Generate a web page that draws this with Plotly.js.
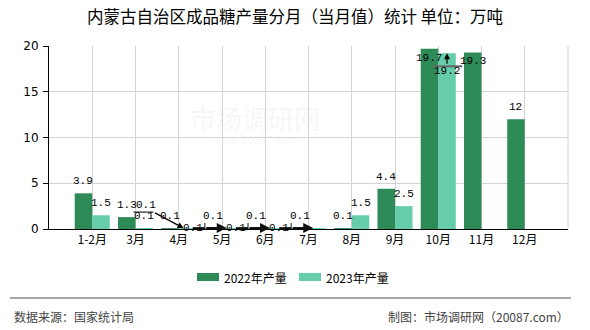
<!DOCTYPE html>
<html>
<head>
<meta charset="utf-8">
<script src="https://cdn.plot.ly/plotly-3.0.1.min.js"></script>
<style>html,body{margin:0;padding:0;background:#fff;}#chart{width:590px;height:330px;}</style>
</head>
<body>
<div id="chart"></div>
<script>
// ---- data ----
const categories = ['1-2月','3月','4月','5月','6月','7月','8月','9月','10月','11月','12月'];
const values2022 = [3.9, 1.3, 0.1, 0.1, 0.1, 0.1, 0.1, 4.4, 19.7, 19.3, 12];
const values2023 = [1.5, 0.1, 0.1, 0.1, 0.1, 0.1, 1.5, 2.5, 19.2, null, null];
const seriesNames = ['2022年产量', '2023年产量'];
const titleText = '内蒙古自治区成品糖产量分月（当月值）统计 单位：万吨';
const sourceText = '数据来源：国家统计局';
const creditText = '制图：市场调研网（20087.com）';
const watermarkText = '市场调研网';
const yTicks = [0, 5, 10, 15, 20];

// ---- styling / layout ----
const colors = ['#2e8b57', '#66cdaa'];
const W = 590, H = 330;
const M = {l: 49, r: 22, t: 46, b: 101};
const plotW = W - M.l - M.r, plotH = H - M.t - M.b;
const bargap = 0.19;
const catPx = plotW / (categories.length + 1);
const barPx = catPx * (1 - bargap) / 2;
const half = barPx / 2;
const labelFont = {family: 'Liberation Mono, DejaVu Sans Mono, monospace', size: 11, color: '#000'};
const px = v => (v - M.l) / plotW;          // pixel -> paper x
const py = v => (H - M.b - v) / plotH;      // pixel -> paper y

const traces = [
  {type: 'bar', name: seriesNames[0], x: categories.map((c, i) => i), y: values2022,
   marker: {color: colors[0]}, hoverinfo: 'none', showlegend: false},
  {type: 'bar', name: seriesNames[1], x: categories.map((c, i) => i), y: values2023,
   marker: {color: colors[1]}, hoverinfo: 'none', showlegend: false}
];

const annotations = [];
const shapes = [];

// value labels, series 2022
values2022.forEach((v, i) => {
  if (v == null) return;
  const inside = (i === 8 || i === 9);
  annotations.push({x: i, y: v, xref: 'x', yref: 'y', text: String(v), showarrow: false,
    xshift: -half, yshift: inside ? -9 : 4, yanchor: inside ? 'middle' : 'bottom',
    font: labelFont});
});
// value labels, series 2023
values2023.forEach((v, i) => {
  if (v == null) return;
  if (i >= 2 && i <= 5) {
    // crowded small labels: placed beside the bar top with an arrow from the left
    const headShift = half - 4;
    if (i <= 4) {
      annotations.push({x: i, y: v, xref: 'x', yref: 'y', text: String(v), showarrow: false,
        xshift: half + 5, yshift: 0, yanchor: 'middle', xanchor: 'center', font: labelFont});
    }
    if (i === 2) {
      annotations.push({x: i, y: v, xref: 'x', yref: 'y', text: '', showarrow: true,
        xshift: headShift, ax: -30, ay: -16, arrowhead: 2, arrowsize: 1, arrowwidth: 1.2,
        arrowcolor: '#000', standoff: 0, startstandoff: 0});
      annotations.push({x: i, y: v, xref: 'x', yref: 'y', text: String(v), showarrow: false,
        xshift: half - 42, yshift: 23, yanchor: 'middle', font: labelFont});
      shapes.push({type: 'line', xref: 'x', yref: 'y', xsizemode: 'pixel', ysizemode: 'pixel',
        xanchor: i, yanchor: v, x0: half - 54, x1: half - 34, y0: 16, y1: 16,
        line: {color: '#000', width: 1}});
    } else {
      annotations.push({x: i, y: v, xref: 'x', yref: 'y', text: '', showarrow: true,
        xshift: headShift, ax: -22, ay: 0, arrowhead: 2, arrowsize: 1, arrowwidth: 2,
        arrowcolor: '#111', standoff: 0, startstandoff: 0});
      shapes.push({type: 'line', xref: 'x', yref: 'y', xsizemode: 'pixel', ysizemode: 'pixel',
        xanchor: i, yanchor: v, x0: headShift - 22, x1: headShift - 22, y0: -4, y1: 5,
        line: {color: '#666', width: 1.5}});
      shapes.push({type: 'line', xref: 'x', yref: 'y', xsizemode: 'pixel', ysizemode: 'pixel',
        xanchor: i, yanchor: v, x0: headShift - 34, x1: headShift - 22, y0: 0, y1: 0,
        line: {color: '#111', width: 2}});
    }
    return;
  }
  if (i === 8) {
    annotations.push({x: i, y: v, xref: 'x', yref: 'y', text: String(v), showarrow: true,
      xshift: half, ax: 0, ay: 18, arrowhead: 2, arrowsize: 1, arrowwidth: 1.2,
      arrowcolor: '#000', standoff: 0, font: labelFont});
    shapes.push({type: 'line', xref: 'x', yref: 'y', xsizemode: 'pixel', ysizemode: 'pixel',
      xanchor: i, yanchor: v, x0: -5, x1: 24, y0: -13, y1: -13,
      line: {color: '#666', width: 2}});
    return;
  }
  annotations.push({x: i, y: v, xref: 'x', yref: 'y', text: String(v), showarrow: false,
    xshift: half, yshift: 4, yanchor: 'bottom', font: labelFont});
});

// right border grid line
shapes.push({type: 'line', xref: 'paper', yref: 'paper', x0: 1, x1: 1, y0: 0, y1: 1,
  line: {color: '#d3d3d3', width: 1}, layer: 'below'});

// watermark
annotations.push({xref: 'paper', yref: 'paper', x: px(255), y: py(117), text: watermarkText,
  showarrow: false, font: {family: 'Noto Sans CJK SC', size: 26, color: 'rgba(190,190,190,0.12)'}});
annotations.push({xref: 'paper', yref: 'paper', x: px(255), y: py(140), text: 'www.20087.com',
  showarrow: false, font: {family: 'DejaVu Sans', size: 10, color: 'rgba(190,190,190,0.12)'}});

// custom legend
const legX = [197, 299];
seriesNames.forEach((n, k) => {
  shapes.push({type: 'rect', xref: 'paper', yref: 'paper', x0: px(legX[k]), x1: px(legX[k] + 22),
    y0: py(281), y1: py(273), fillcolor: colors[k], line: {width: 0}});
  annotations.push({xref: 'paper', yref: 'paper', x: px(legX[k] + 25), y: py(277), text: n,
    showarrow: false, xanchor: 'left', yanchor: 'middle',
    font: {family: 'Noto Sans CJK SC', size: 12, color: '#000'}});
});

// footer
shapes.push({type: 'line', xref: 'paper', yref: 'paper', x0: px(10), x1: px(571), y0: py(298), y1: py(298),
  line: {color: '#888', width: 1.5}});
annotations.push({xref: 'paper', yref: 'paper', x: px(12), y: py(316), text: sourceText, showarrow: false,
  xanchor: 'left', yanchor: 'middle', font: {family: 'Noto Sans CJK SC', size: 12, color: '#444'}});
annotations.push({xref: 'paper', yref: 'paper', x: px(571), y: py(316), text: creditText, showarrow: false,
  xanchor: 'right', yanchor: 'middle', font: {family: 'Noto Sans CJK SC', size: 12, color: '#444'}});

const layout = {
  width: W, height: H,
  margin: {l: M.l, r: M.r, t: M.t, b: M.b, pad: 0},
  paper_bgcolor: '#fff', plot_bgcolor: '#fff',
  title: {text: titleText, x: 0.5, xanchor: 'center', y: 1 - 17 / H, yanchor: 'middle',
    xref: 'container', yref: 'container',
    font: {family: 'Noto Sans CJK SC', size: 16.5, color: '#000'}},
  barmode: 'group', bargap: bargap, bargroupgap: 0,
  showlegend: false,
  xaxis: {type: 'linear', range: [-1, categories.length], tickmode: 'array',
    tickvals: categories.map((c, i) => i), ticktext: categories,
    showgrid: true, gridcolor: '#d3d3d3', gridwidth: 1, zeroline: false,
    showline: true, linecolor: '#000', linewidth: 1, ticks: '',
    tickfont: {family: 'Noto Sans CJK SC', size: 12, color: '#000'}, fixedrange: true},
  yaxis: {range: [0, 20], tickmode: 'array', tickvals: yTicks, showgrid: true, gridcolor: '#d3d3d3',
    gridwidth: 1, zeroline: false, showline: true, linecolor: '#000', linewidth: 1,
    ticks: 'outside', ticklen: 5, tickcolor: '#000', ticklabelstandoff: 2,
    tickfont: {family: 'DejaVu Sans', size: 12, color: '#000'}, fixedrange: true},
  annotations: annotations,
  shapes: shapes
};

Plotly.newPlot('chart', traces, layout, {displayModeBar: false, staticPlot: true});
</script>
</body>
</html>
